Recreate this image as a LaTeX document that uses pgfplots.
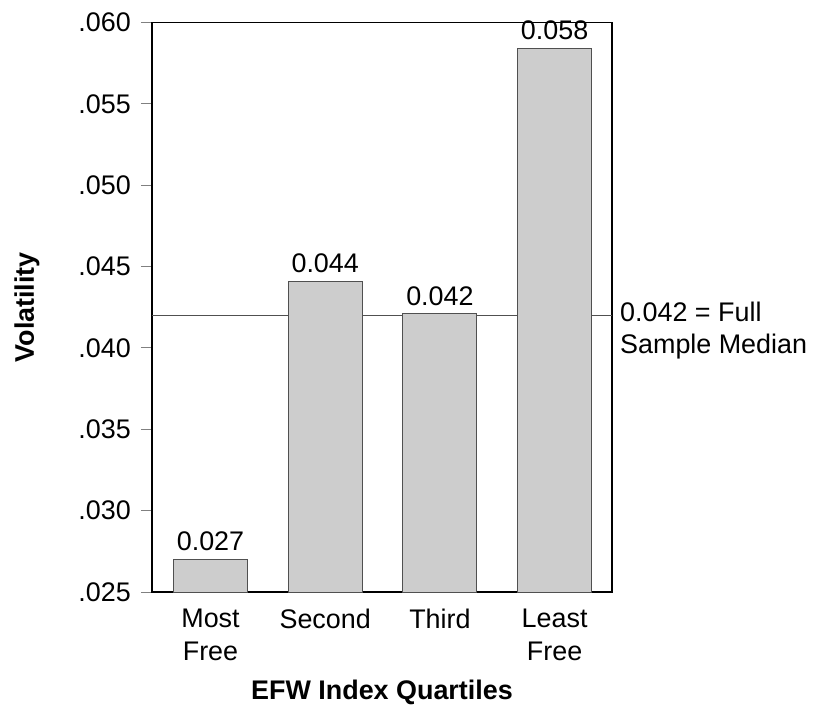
\documentclass[border=0pt]{standalone}
\usepackage{fontspec}
\setmainfont{Liberation Sans}
\usepackage{pgfplots}
\pgfplotsset{compat=1.18}
\definecolor{barfill}{HTML}{CDCDCD}
\definecolor{baredge}{HTML}{505050}
\begin{document}
\begin{tikzpicture}
\begin{axis}[
  name=ax,
  scale only axis, width=460bp, height=569.5bp,
  xmin=-0.51, xmax=3.5, ymin=0.025, ymax=0.060,
  clip mode=individual,
  xtick={0,1,2,3},
  xticklabels={Most\\Free, Second, Third, Least\\Free},
  xticklabel style={align=center, anchor=north, inner sep=0pt, yshift=-6bp, font=\fontsize{27}{33}\selectfont},
  x tick style={draw=none},
  ytick={0.025,0.030,0.035,0.040,0.045,0.050,0.055,0.060},
  yticklabels={.025,.030,.035,.040,.045,.050,.055,.060},
  scaled y ticks=false,
  ytick pos=left,
  yticklabel style={anchor=east, inner sep=0pt, xshift=-10bp, font=\fontsize{27}{33}\selectfont},
  tick align=outside, major tick length=11bp,
  y tick style={color=gray, line width=1bp},
  axis line style={line width=1.6bp},
  xlabel={EFW Index Quartiles}, ylabel={Volatility},
  label style={font=\fontsize{27}{33}\selectfont\bfseries},
  xlabel style={at={(axis description cs:0.5,-0.176)}, anchor=center},
  ylabel style={at={(axis description cs:-0.272,0.5)}, anchor=center},
]
\addplot[color=baredge, line width=1.1bp] coordinates {(-0.51,0.042) (3.5,0.042)};
\addplot[ybar, bar width=74bp, fill=barfill, draw=baredge, line width=0.9bp,
  nodes near coords, point meta=explicit symbolic,
  every node near coord/.style={anchor=south, inner sep=0pt, yshift=8bp, text=black, font=\fontsize{27}{33}\selectfont}]
  coordinates {(0,0.0270) [0.027] (1,0.0441) [0.044] (2,0.0421) [0.042] (3,0.0584) [0.058]};
\node[anchor=north west, align=left, inner sep=0pt, xshift=8bp, yshift=14bp, font=\fontsize{27}{33}\selectfont]
  at (axis cs:3.5,0.042) {0.042 = Full\\Sample Median};
\end{axis}
\pgfresetboundingbox
\useasboundingbox ([xshift=-152bp,yshift=-119bp]ax.south west) rectangle ([xshift=213bp,yshift=22.5bp]ax.north east);
\end{tikzpicture}
\end{document}
